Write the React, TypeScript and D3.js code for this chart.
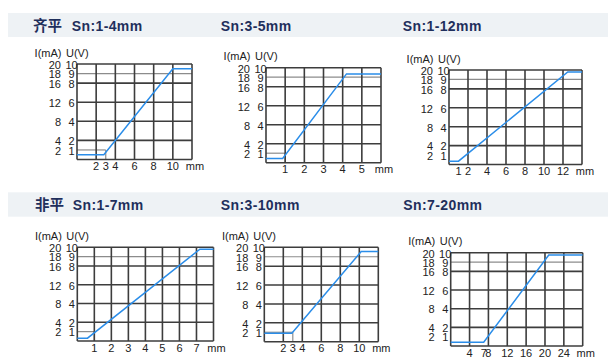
import * as d3 from "d3";

// shared y ticks: current (mA) and voltage (V) columns
const iTicks = [20, 18, 16, 12, 8, 4, 2];
const uTicks = [10, 9, 8, 6, 4, 2, 1];
const majorRows = [0, 4, 8, 12, 16, 20];
const minorRows = [18];

const prefixes = ["齐平", "", "", "非平", "", ""];
const ranges = ["Sn:1-4mm", "Sn:3-5mm", "Sn:1-12mm", "Sn:1-7mm", "Sn:3-10mm", "Sn:7-20mm"];
const xMax = [12, 6, 14, 8, 12, 28];
const xStep = [2, 1, 2, 1, 2, 4];
const xLabels = [
  [2, 3, 4, 6, 8, 10],
  [1, 2, 3, 4, 5],
  [1, 2, 4, 6, 8, 10, 12],
  [1, 2, 3, 4, 5, 6, 7],
  [2, 3, 4, 6, 8, 10],
  [4, 7, 8, 12, 16, 20, 24],
];
// output curves: [distance mm, current mA]
const curves = [
  [[0, 1], [2.8, 1], [10, 19], [12, 19]],
  [[0, 0.9], [0.87, 0.9], [4.2, 18.7], [6, 18.7]],
  [[0, 0.7], [1, 0.7], [12.5, 19.6], [14, 19.6]],
  [[0, 0.6], [0.6, 0.6], [7.2, 19.6], [8, 19.6]],
  [[0, 1.8], [2.9, 1.8], [10.2, 19.1], [12, 19.1]],
  [[0, 0.8], [7, 0.8], [20.8, 19.5], [28, 19.5]],
];
// start-of-range marker (2 mA line up to this distance)
const boxEnd = [3, 1, null, 1, 3, null];

// panel frames in the picture
const frames = [
  { l: 77, t: 64, r: 192, b: 159.5, tx: 71.7, px: 33 },
  { l: 266, t: 67.7, r: 381, b: 162.7, tx: 220.7, px: 0 },
  { l: 449, t: 70, r: 582, b: 164.5, tx: 402.7, px: 0 },
  { l: 77.3, t: 247.3, r: 213.5, b: 341, tx: 72.7, px: 35 },
  { l: 264.3, t: 247.3, r: 378.3, b: 341.7, tx: 220.7, px: 0 },
  { l: 450.7, t: 252.7, r: 582.7, b: 346, tx: 403.3, px: 0 },
];
const bands = [{ y: 13, h: 24, base: 30.5 }, { y: 192.3, h: 24.4, base: 209.5 }];

const font = "'Liberation Sans', Arial, sans-serif";
const gridDark = "#3d3d3d";
const gridLight = "#8c8c8c";
const blue = "#2a8de9";

function Panel({ i }: { i: number }) {
  const f = frames[i];
  const x = d3.scaleLinear().domain([0, xMax[i]]).range([f.l, f.r]);
  const y = d3.scaleLinear().domain([0, 20]).range([f.b, f.t]);
  const line = d3
    .line<number[]>()
    .x((d) => x(d[0]))
    .y((d) => y(d[1]));
  const cols = d3.range(0, xMax[i] + xStep[i] / 2, xStep[i]);
  const be = boxEnd[i];

  return (
    <g>
      <text x={f.l - 15.5} y={f.t - 7.3} fontSize={11} textAnchor="end" fill="#222">
        I(mA)
      </text>
      <text x={f.l - 11} y={f.t - 7.3} fontSize={11} fill="#222">
        U(V)
      </text>
      {minorRows.map((v) => (
        <line key={"m" + v} x1={f.l} x2={f.r} y1={y(v)} y2={y(v)} stroke={gridLight} strokeWidth={1.2} />
      ))}
      {be != null && (
        <g stroke={gridLight} strokeWidth={1.2}>
          <line x1={f.l} x2={x(be)} y1={y(2)} y2={y(2)} />
          <line x1={x(be)} x2={x(be)} y1={y(2)} y2={y(0)} />
        </g>
      )}
      {majorRows.map((v) => (
        <line key={"r" + v} x1={f.l} x2={f.r} y1={y(v)} y2={y(v)} stroke={gridDark} strokeWidth={1.6} />
      ))}
      {cols.map((v) => (
        <line key={"c" + v} x1={x(v)} x2={x(v)} y1={f.t} y2={f.b} stroke={gridDark} strokeWidth={1.6} />
      ))}
      <path d={line(curves[i] as number[][]) || ""} fill="none" stroke={blue} strokeWidth={1.5} />
      {iTicks.map((v, k) => (
        <g key={"t" + v}>
          <text x={f.l - 16} y={y(v) + 4.8} fontSize={11} textAnchor="end" fill="#222">
            {v}
          </text>
          <text x={f.l - 5.5} y={y(v) + 4.8} fontSize={11} textAnchor="middle" fill="#222">
            {uTicks[k]}
          </text>
        </g>
      ))}
      {xLabels[i].map((v) => (
        <text key={"x" + v} x={x(v)} y={f.b + 10.5} fontSize={11} textAnchor="middle" fill="#222">
          {v}
        </text>
      ))}
      <text x={f.r + 3} y={f.b + 10.5} fontSize={11} textAnchor="middle" fill="#222">
        mm
      </text>
    </g>
  );
}

export default function App() {
  return (
    <svg
      width={608}
      height={364}
      style={{ position: "absolute", left: 0, top: 0, background: "#fff" }}
      fontFamily={font}
    >
      {bands.map((b, k) => (
        <rect key={k} x={8} y={b.y} width={600} height={b.h} fill="#eef2f5" />
      ))}
      {frames.map((f, i) => {
        const base = bands[i < 3 ? 0 : 1].base;
        return (
          <g key={"title" + i} fill="#1f2f5c" fontWeight="bold" fontSize={14}>
            {prefixes[i] && (
              <text x={f.px} y={base} fontFamily="'Noto Sans CJK SC', sans-serif" fontSize={14.5}>
                {prefixes[i]}
              </text>
            )}
            <text x={f.tx} y={base} letterSpacing={0.4}>
              {ranges[i]}
            </text>
          </g>
        );
      })}
      {frames.map((_, i) => (
        <Panel key={i} i={i} />
      ))}
    </svg>
  );
}
